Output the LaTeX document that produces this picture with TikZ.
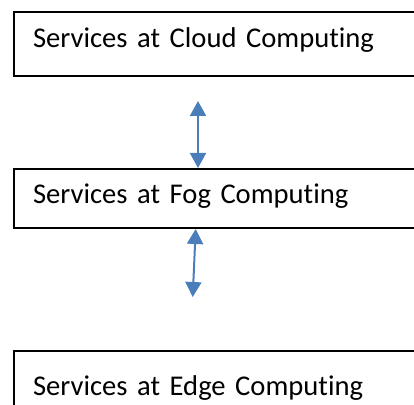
\documentclass[tikz,border=0pt]{standalone}
\usepackage{fontspec}
\setmainfont[Ligatures=NoCommon]{Carlito}
\usetikzlibrary{arrows.meta,positioning}
\definecolor{linkblue}{HTML}{4A7EBB}
\tikzstyle{layer}=[draw,line width=2pt,text width=402pt,inner xsep=19pt,
  align=left,font=\fontsize{28.6}{34}\selectfont]
\tikzstyle{link}=[{Triangle[width=16pt,length=15pt]}-{Triangle[width=16pt,length=15pt]},
  linkblue, line width=2pt]

\begin{document}
\begin{tikzpicture}[x=1pt, y=1pt, node distance=91pt]
  \useasboundingbox (0,0) rectangle (414,404);
  \clip (0,0) rectangle (414,404);
  \node[layer, minimum height=64pt, text depth=13pt, anchor=north west] (cloud) at (13,393)
    {Services at Cloud Computing};
  \node[layer, minimum height=59pt, text depth=10pt, below=of cloud] (fog)
    {Services at Fog Computing};
  \node[layer, minimum height=75pt, below=121pt of fog] (edge)
    {Services at Edge Computing};

  \coordinate (fogin) at (198,303);
  \coordinate (fogout) at (192.7,107);

  \draw[link] (fogin) -- (fogin |- fog.north);
  \draw[link] ([xshift=-38.3pt]fog.south) -- (fogout);
\end{tikzpicture}
\end{document}
